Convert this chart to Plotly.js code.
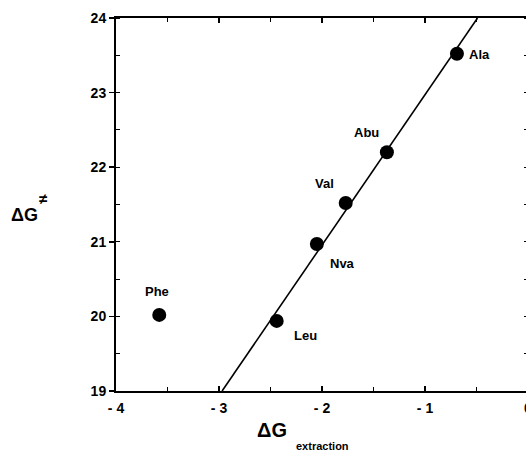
<!DOCTYPE html>
<html><head><meta charset="utf-8">
<script src="https://cdn.plot.ly/plotly-3.0.1.min.js"></script>
<style>html,body{margin:0;padding:0;overflow:hidden;background:#fff;}#g{width:540px;height:457px;}</style>
</head><body><div id="g"></div>
<script>
// Data
const names = ["Phe","Leu","Nva","Val","Abu","Ala"];
const dgExtraction = [-3.58,-2.44,-2.05,-1.77,-1.37,-0.69];
const dgBarrier = [20.02,19.94,20.97,21.52,22.20,23.52];
const fitX = [-2.97,-0.49];
const fitY = [19,24];
const xTickVals = [-4,-3,-2,-1,0];
const xTickText = ["- 4","- 3","- 2","- 1","0"];
const yTickVals = [19,20,21,22,23,24];

// label offsets (px) relative to the points
const labelDx = [-2,29,26,-21,-20,23];
const labelDy = [23,-15,-19,20,20,-1];

const font = "Liberation Sans, Arial, sans-serif";
const traces = [
  {x: fitX, y: fitY, mode:'lines', line:{color:'#000', width:1.6}, hoverinfo:'skip', showlegend:false},
  {x: dgExtraction, y: dgBarrier, mode:'markers', marker:{color:'#000', size:14}, showlegend:false}
];
const annotations = names.map((n,i)=>({
  x: dgExtraction[i], y: dgBarrier[i], xref:'x', yref:'y', text:n, showarrow:false,
  xshift: labelDx[i], yshift: labelDy[i], font:{family:font, size:13, color:'#000', weight:'bold'}
}));
annotations.push(
  {xref:'paper', yref:'paper', x:0.385, y:-0.10, xanchor:'center', yanchor:'middle', showarrow:false,
   text:'ΔG', font:{family:font, size:20, color:'#000', weight:'bold'}, xshift:-3, yshift:-2},
  {xref:'paper', yref:'paper', x:0.50, y:-0.10, xanchor:'center', yanchor:'middle', showarrow:false,
   text:'extraction', font:{family:font, size:11, color:'#000', weight:'bold'}, yshift:-18},
  {xref:'paper', yref:'paper', x:-0.22, y:0.48, xanchor:'center', yanchor:'middle', showarrow:false,
   text:'ΔG', font:{family:font, size:18, color:'#000', weight:'bold'}, xshift:-1, yshift:-3},
  {xref:'paper', yref:'paper', x:-0.22, y:0.48, xanchor:'center', yanchor:'middle', showarrow:false,
   text:'≠', font:{family:font, size:15, color:'#000', weight:'bold'}, xshift:18, yshift:13}
);
const layout = {
  width:540, height:457,
  margin:{l:116, r:12, t:18, b:66},
  paper_bgcolor:'#fff', plot_bgcolor:'#fff',
  xaxis:{range:[-4,0], tickvals:xTickVals, ticktext:xTickText, showgrid:false, zeroline:false,
    showline:true, linecolor:'#000', linewidth:2, mirror:'ticks', ticks:'inside', ticklen:5, tickcolor:'#000', tickwidth:1.5,
    ticklabelstandoff:3,
    minor:{dtick:0.5, ticks:'inside', ticklen:4, tickcolor:'#000', tickwidth:1},
    tickfont:{family:font, size:14, color:'#000', weight:'bold'}},
  yaxis:{range:[19,24], tickvals:yTickVals, showgrid:false, zeroline:false,
    showline:true, linecolor:'#000', linewidth:2, mirror:'ticks', ticks:'outside', ticklen:5, tickcolor:'#000', tickwidth:1.5,
    minor:{dtick:0.5, ticks:'inside', ticklen:4, tickcolor:'#000', tickwidth:1},
    tickfont:{family:font, size:14, color:'#000', weight:'bold'}},
  annotations: annotations
};
Plotly.newPlot('g', traces, layout, {displayModeBar:false, staticPlot:true});
</script></body></html>
